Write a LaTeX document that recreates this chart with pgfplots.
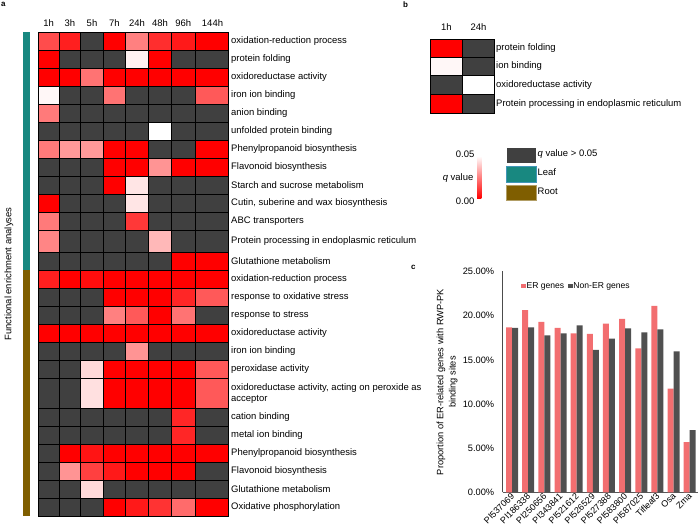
\documentclass[border=0pt]{standalone}
\usepackage{fontspec}
\setmainfont{Liberation Sans}
\usepackage{pgfplots}
\pgfplotsset{compat=1.18}
\definecolor{qgray}{RGB}{64,64,64}
\definecolor{leafc}{RGB}{24,136,128}
\definecolor{rootc}{RGB}{127,94,0}
\definecolor{erc}{RGB}{242,110,112}
\definecolor{nerc}{RGB}{80,80,80}
\newcommand\fa{\fontsize{9.5}{11}\selectfont}
\newcommand\fb{\fontsize{9.3}{12.3}\selectfont}
\newcommand\fc{\fontsize{9}{11}\selectfont}
\tikzset{lab/.style={anchor=west, inner sep=0pt, font=\fa},
  hd/.style={anchor=center, inner sep=0pt, font=\fa}}
% column boundaries of the heatmaps
\def\XA{{38,59.3,80.7,103.3,125.3,148.7,171.3,195.3,228.7}}
\def\XB{{430,462.7,494.7}}
% one heatmap row: boundaries, top y, bottom y, whiteness of each cell (0 = q 0.00, 100 = q 0.05, -1 = q > 0.05)
\newcommand{\hrow}[4]{%
  \foreach \v [count=\i from 0] in {#4} {%
    \pgfmathsetmacro\xa{#1[\i]}%
    \pgfmathsetmacro\xb{#1[\i+1]}%
    \ifnum\v<0 \def\cc{qgray}\else\pgfmathtruncatemacro\rr{100-\v}\edef\cc{red!\rr!white}\fi
    \edef\temp{\noexpand\addplot[mark=none, fill=\cc, draw=black, line width=0.6bp] coordinates {(\xa,#2) (\xb,#2) (\xb,#3) (\xa,#3)} -- cycle;}%
    \temp
  }%
}
\begin{document}
\begin{tikzpicture}
\useasboundingbox (0,0) rectangle (698bp,530bp);
\begin{axis}[at={(0,0)}, anchor=south west, scale only axis, width=698bp, height=530bp,
  xmin=0, xmax=698, ymin=0, ymax=530, hide axis, clip=false]
% ---------- heatmap a : leaf ----------
\hrow{\XA}{498}{480}{30,12,-1,0,50,18,10,0}
\hrow{\XA}{480}{461.5}{0,-1,-1,-1,95,0,-1,-1}
\hrow{\XA}{461.5}{443.5}{0,0,45,0,0,0,0,0}
\hrow{\XA}{443.5}{425.5}{97,-1,-1,45,-1,-1,-1,35}
\hrow{\XA}{425.5}{407.5}{48,-1,-1,-1,-1,-1,-1,-1}
\hrow{\XA}{407.5}{389.5}{-1,-1,-1,-1,-1,100,-1,-1}
\hrow{\XA}{389.5}{371.5}{48,60,60,0,0,-1,-1,0}
\hrow{\XA}{371.5}{353.5}{-1,-1,-1,0,0,58,0,0}
\hrow{\XA}{353.5}{335.5}{-1,-1,-1,0,90,-1,-1,-1}
\hrow{\XA}{335.5}{317.5}{0,-1,-1,-1,90,-1,-1,-1}
\hrow{\XA}{317.5}{300}{48,-1,-1,-1,22,-1,-1,-1}
\hrow{\XA}{300}{278}{52,-1,-1,-1,-1,72,-1,-1}
\hrow{\XA}{278}{260}{-1,-1,-1,-1,-1,-1,0,0}
% ---------- heatmap a : root ----------
\hrow{\XA}{260}{242}{12,0,5,0,0,0,0,0}
\hrow{\XA}{242}{224}{-1,-1,-1,0,0,0,15,35}
\hrow{\XA}{224}{206}{-1,-1,-1,50,35,0,45,-1}
\hrow{\XA}{206}{187.5}{0,0,0,0,0,0,0,0}
\hrow{\XA}{187.5}{169.5}{-1,-1,-1,-1,58,-1,-1,-1}
\hrow{\XA}{169.5}{151.5}{-1,-1,85,0,0,0,0,35}
\hrow{\XA}{151.5}{122}{-1,-1,88,0,0,0,0,35}
\hrow{\XA}{122}{104}{-1,-1,-1,-1,-1,-1,15,-1}
\hrow{\XA}{104}{85.5}{-1,-1,-1,-1,-1,-1,15,-1}
\hrow{\XA}{85.5}{67.5}{-1,0,8,0,0,0,0,0}
\hrow{\XA}{67.5}{49.5}{-1,58,25,10,0,0,0,-1}
\hrow{\XA}{49.5}{31.5}{-1,-1,85,-1,-1,-1,-1,-1}
\hrow{\XA}{31.5}{14}{-1,-1,-1,0,10,20,42,0}
% ---------- heatmap b ----------
\hrow{\XB}{491}{472.7}{0,-1}
\hrow{\XB}{472.7}{454.7}{97,-1}
\hrow{\XB}{454.7}{436}{-1,100}
\hrow{\XB}{436}{416.7}{0,-1}
% tissue bars
\addplot[mark=none, fill=leafc, draw=none] coordinates {(22.7,498) (30,498) (30,260) (22.7,260)} -- cycle;
\addplot[mark=none, fill=rootc, draw=none] coordinates {(22.7,260) (30,260) (30,14) (22.7,14)} -- cycle;
% colour bar and legend boxes
\addplot[mark=none, draw=none, top color=white, bottom color=red] coordinates {(477,374) (481.3,374) (481.3,331.7) (477,331.7)} -- cycle;
\addplot[mark=none, fill=qgray, draw=none] coordinates {(506.7,381.7) (536,381.7) (536,367.3) (506.7,367.3)} -- cycle;
\addplot[mark=none, fill=leafc, draw=cyan!40!leafc, line width=0.5bp] coordinates {(506.7,363.3) (536,363.3) (536,348) (506.7,348)} -- cycle;
\addplot[mark=none, fill=rootc, draw=rootc!60!white, line width=0.5bp] coordinates {(506.7,344.3) (536,344.3) (536,329.3) (506.7,329.3)} -- cycle;
% panel letters
\node[anchor=north west, inner sep=0pt, font=\fontsize{8}{9}\selectfont\bfseries] at (1,528) {a};
\node[anchor=north west, inner sep=0pt, font=\fontsize{8}{9}\selectfont\bfseries] at (403,528) {b};
\node[anchor=north west, inner sep=0pt, font=\fontsize{8}{9}\selectfont\bfseries] at (411,265) {c};
% column headers a
\node[hd] at (48.7,507.3) {1h};
\node[hd] at (70,507.3) {3h};
\node[hd] at (92,507.3) {5h};
\node[hd] at (114.3,507.3) {7h};
\node[hd] at (137,507.3) {24h};
\node[hd] at (160,507.3) {48h};
\node[hd] at (183.3,507.3) {96h};
\node[hd] at (212.5,507.3) {144h};
% column headers b
\node[hd] at (446.3,503) {1h};
\node[hd] at (478.5,503) {24h};
% y label a
\node[rotate=90, anchor=center, inner sep=0pt, font=\fa] at (9,256) {Functional enrichment analyses};
% row labels a
\node[lab] at (231,489) {oxidation-reduction process};
\node[lab] at (231,470.75) {protein folding};
\node[lab] at (231,452.5) {oxidoreductase activity};
\node[lab] at (231,434.5) {iron ion binding};
\node[lab] at (231,416.5) {anion binding};
\node[lab] at (231,398.5) {unfolded protein binding};
\node[lab] at (231,380.5) {Phenylpropanoid biosynthesis};
\node[lab] at (231,362.5) {Flavonoid biosynthesis};
\node[lab] at (231,344.5) {Starch and sucrose metabolism};
\node[lab] at (231,326.5) {Cutin, suberine and wax biosynthesis};
\node[lab] at (231,308.75) {ABC transporters};
\node[lab] at (231,289) {Protein processing in endoplasmic reticulum};
\node[lab] at (231,269) {Glutathione metabolism};
\node[lab] at (231,251) {oxidation-reduction process};
\node[lab] at (231,233) {response to oxidative stress};
\node[lab] at (231,215) {response to stress};
\node[lab] at (231,196.75) {oxidoreductase activity};
\node[lab] at (231,178.5) {iron ion binding};
\node[lab] at (231,160.5) {peroxidase activity};
\node[lab, align=left] at (231,136.75) {oxidoreductase activity, acting on peroxide as\\acceptor};
\node[lab] at (231,113) {cation binding};
\node[lab] at (231,94.75) {metal ion binding};
\node[lab] at (231,76.5) {Phenylpropanoid biosynthesis};
\node[lab] at (231,58.5) {Flavonoid biosynthesis};
\node[lab] at (231,40.5) {Glutathione metabolism};
\node[lab] at (231,22.75) {Oxidative phosphorylation};
% row labels b
\node[lab] at (496,481.85) {protein folding};
\node[lab] at (496,463.7) {ion binding};
\node[lab] at (496,445.35) {oxidoreductase activity};
\node[lab] at (496,426.35) {Protein processing in endoplasmic reticulum};
% legend texts
\node[anchor=east, inner sep=0pt, font=\fa] at (474.5,375.7) {0.05};
\node[anchor=east, inner sep=0pt, font=\fa] at (473.5,352.3) {\textit{q} value};
\node[anchor=east, inner sep=0pt, font=\fa] at (474.5,328.3) {0.00};
\node[lab] at (537.5,376) {\textit{q} value > 0.05};
\node[lab] at (537.5,357.7) {Leaf};
\node[lab] at (537.5,338.3) {Root};
\end{axis}
% ---------- bar chart c ----------
\begin{axis}[at={(502.7bp,37.5bp)}, anchor=south west, scale only axis,
  width=195.1bp, height=221bp, xmin=-0.58, xmax=11.5, ymin=0, ymax=25,
  ybar=0pt, bar width=6bp,
  axis x line*=bottom, axis y line*=left,
  x axis line style={draw=gray!70!black, line width=0.6bp},
  y axis line style={draw=black!70, line width=0.6bp},
  major tick length=0pt, tick style={draw=none},
  xtick={0,...,11},
  xticklabels={PI537069,PI186338,PI250656,PI343841,PI521612,PI526529,PI527388,PI583800,PI587025,Tifleaf3,Osa,Zma},
  xticklabel style={rotate=45, anchor=east, font=\fc, inner sep=1bp, yshift=-2bp},
  ytick={0,5,10,15,20,25},
  yticklabels={0.00\%,5.00\%,10.00\%,15.00\%,20.00\%,25.00\%},
  yticklabel style={font=\fb, xshift=-5bp},
  ylabel={Proportion of ER-related genes with RWP-PK\\binding sites},
  ylabel style={at={(axis description cs:-0.285,0.5)}, anchor=center, align=center, font=\fb},
  legend image code/.code={\fill[#1] (0bp,-2.3bp) rectangle (4.6bp,2.3bp);},
  legend style={at={(axis description cs:0.094,0.934)}, anchor=west, draw=none, fill=none,
    font=\fontsize{8.6}{10}\selectfont, legend columns=2, inner sep=0pt,
    nodes={inner sep=0.8bp},
    /tikz/every even column/.append style={column sep=3bp}},
]
\addplot[fill=erc, draw=none] coordinates {(0,18.68) (1,20.64) (2,19.29) (3,18.61) (4,18.0) (5,17.93) (6,19.1) (7,19.63) (8,16.3) (9,21.1) (10,11.75) (11,5.71)};
\addplot[fill=nerc, draw=none] coordinates {(0,18.61) (1,18.68) (2,17.78) (3,18.0) (4,18.91) (5,16.12) (6,17.4) (7,18.57) (8,18.12) (9,18.46) (10,15.97) (11,7.07)};
\legend{ER genes, Non-ER genes}
\end{axis}
\end{tikzpicture}
\end{document}
